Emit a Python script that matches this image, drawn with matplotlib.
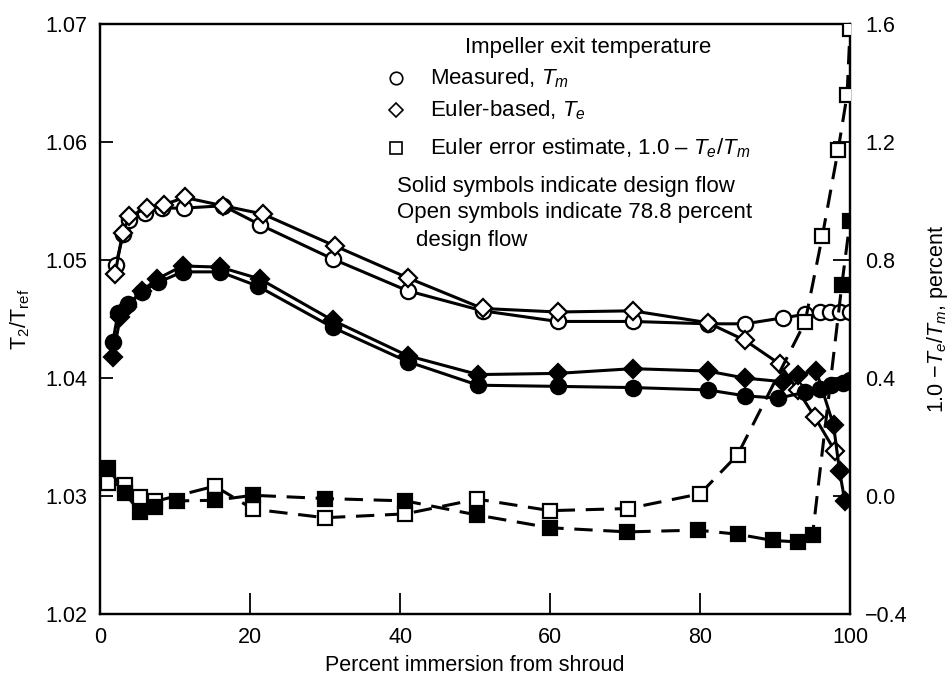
import matplotlib.pyplot as plt

plt.rcParams['font.family'] = ['Liberation Sans', 'DejaVu Sans']
plt.rcParams['mathtext.fontset'] = 'custom'
plt.rcParams['mathtext.rm'] = 'Liberation Sans'
plt.rcParams['mathtext.it'] = 'Liberation Sans:italic'

# Impeller exit temperature ratio, 78.8 percent design flow (open symbols)
x_open_meas = [2.1, 3.1, 3.9, 6.0, 8.3, 11.2, 16.4, 21.3, 31, 41, 51, 61, 71, 81, 86, 91, 94, 96, 97.3, 98.7, 100]
t_open_meas = [1.0496, 1.0522, 1.0534, 1.0540, 1.0544, 1.0544, 1.0546, 1.0530, 1.0501, 1.0474, 1.0457,
               1.0448, 1.0448, 1.0446, 1.0446, 1.0451, 1.0454, 1.0456, 1.0456, 1.0456, 1.0456]
x_open_euler = [2.0, 3.0, 3.9, 6.2, 8.5, 11.3, 16.4, 21.7, 31.3, 41, 51, 61, 71, 81, 86, 90.6, 93, 95.3, 98]
t_open_euler = [1.0488, 1.0523, 1.0537, 1.0544, 1.0547, 1.0553, 1.0546, 1.0539, 1.0512, 1.0485, 1.0459,
                1.0456, 1.0457, 1.0447, 1.0432, 1.0412, 1.0390, 1.0367, 1.0338]

# Design flow (solid symbols)
x_des_meas = [1.7, 2.4, 3.7, 5.6, 7.7, 11, 16, 21, 31, 41, 50.4, 61, 71, 81, 86, 90.4, 94, 96, 97.5, 99, 100]
t_des_meas = [1.0431, 1.0455, 1.0463, 1.0473, 1.0481, 1.0490, 1.0490, 1.0478, 1.0443, 1.0414, 1.0394,
              1.0393, 1.0392, 1.0390, 1.0385, 1.0383, 1.0388, 1.0391, 1.0394, 1.0396, 1.0398]
x_des_euler = [1.7, 2.7, 3.6, 5.6, 7.6, 11, 16, 21.3, 31, 41, 50.4, 61, 71, 81, 86, 91, 93, 95.5, 97.8, 98.6, 99.3]
t_des_euler = [1.0418, 1.0452, 1.0460, 1.0474, 1.0484, 1.0495, 1.0494, 1.0484, 1.0449, 1.0419, 1.0403,
               1.0404, 1.0408, 1.0406, 1.0400, 1.0397, 1.0403, 1.0406, 1.0360, 1.0321, 1.0296]

# Euler error estimate, percent (right axis)
x_open_err = [1.1, 3.3, 5.3, 7.3, 15.3, 20.4, 30, 40.7, 50.3, 60, 70.4, 80, 85, 94, 96.3, 98.4, 99.6, 100]
e_open_err = [0.043, 0.037, -0.002, -0.018, 0.034, -0.044, -0.073, -0.060, -0.010, -0.049, -0.042,
              0.008, 0.140, 0.590, 0.881, 1.172, 1.359, 1.584]
x_des_err = [1.1, 3.3, 5.3, 7.3, 10.3, 15.3, 20.4, 30, 40.7, 50.3, 60, 70.3, 79.7, 85, 89.7, 93, 95, 98.9, 100]
e_des_err = [0.097, 0.010, -0.053, -0.035, -0.016, -0.014, 0.003, -0.008, -0.016, -0.064, -0.107,
             -0.121, -0.115, -0.129, -0.150, -0.155, -0.130, 0.716, 0.934]

x_ticks = [0, 20, 40, 60, 80, 100]
left_ticks = [1.02, 1.03, 1.04, 1.05, 1.06, 1.07]
right_ticks = [-0.4, 0.0, 0.4, 0.8, 1.2, 1.6]

fig = plt.figure(figsize=(9.53, 6.84), dpi=100)
ax = fig.add_axes([0.105, 0.102, 0.787, 0.863])
ax2 = ax.twinx()

line_kw = dict(color='black', lw=2.2, mec='black', mew=1.6, zorder=3)
dash_kw = dict(color='black', lw=2.2, mec='black', mew=1.6, dashes=(6, 3.5), zorder=3)

ax.plot(x_open_meas, t_open_meas, marker='o', ms=11, mfc='white', **line_kw)
ax.plot(x_open_euler, t_open_euler, marker='D', ms=9, mfc='white', **line_kw)
ax.plot(x_des_meas, t_des_meas, marker='o', ms=11, mfc='black', **line_kw)
ax.plot(x_des_euler, t_des_euler, marker='D', ms=9, mfc='black', **line_kw)

ax2.plot(x_open_err, e_open_err, marker='s', ms=10, mfc='white', **dash_kw)
ax2.plot(x_des_err, e_des_err, marker='s', ms=10, mfc='black', **dash_kw)

ax.set_xlim(0, 100)
ax.set_ylim(1.02, 1.07)
ax2.set_ylim(-0.4, 1.6)

ax.set_xticks(x_ticks)
ax.set_yticks(left_ticks)
ax.set_yticklabels(['%.2f' % v for v in left_ticks])
ax2.set_yticks(right_ticks)
ax2.set_yticklabels(['\u22120.4', '0.0', '0.4', '0.8', '1.2', '1.6'])

for a in (ax, ax2):
    for sp in a.spines.values():
        sp.set_linewidth(1.6)
ax.tick_params(axis='x', direction='in', length=15, width=1.3, labelsize=15.5, pad=9)
ax.tick_params(axis='y', direction='in', length=9, width=1.3, labelsize=15.5, pad=9)
ax2.tick_params(axis='y', direction='in', length=12, width=1.3, labelsize=15.5, pad=11)

ax.set_xlabel('Percent immersion from shroud', fontsize=15.5, labelpad=5)
ax.set_ylabel('T$_2$/T$_{\\rm ref}$', fontsize=15.5, labelpad=10)
ax2.set_ylabel('1.0 \u2212$T_e/T_m$, percent', fontsize=15.5, labelpad=12)

# Key drawn as text with marker glyphs
fs = 16
fig.text(0.488, 0.930, 'Impeller exit temperature', fontsize=fs, va='center')
key = [('o', 0.886, 'Measured, $T_m$'),
       ('D', 0.839, 'Euler-based, $T_e$'),
       ('s', 0.784, 'Euler error estimate, 1.0 \u2013 $T_e/T_m$')]
for mk, yk, txt in key:
    ax.plot([0.416], [yk], transform=fig.transFigure, marker=mk, ms=9 if mk != 'D' else 7.5,
            mfc='white', mec='black', mew=1.2, ls='none', clip_on=False)
    fig.text(0.451, yk, txt, fontsize=fs, va='center')
fig.text(0.417, 0.728, 'Solid symbols indicate design flow', fontsize=fs, va='center')
fig.text(0.417, 0.689, 'Open symbols indicate 78.8 percent', fontsize=fs, va='center')
fig.text(0.436, 0.649, 'design flow', fontsize=fs, va='center')

fig.savefig('out.png', dpi=100)
